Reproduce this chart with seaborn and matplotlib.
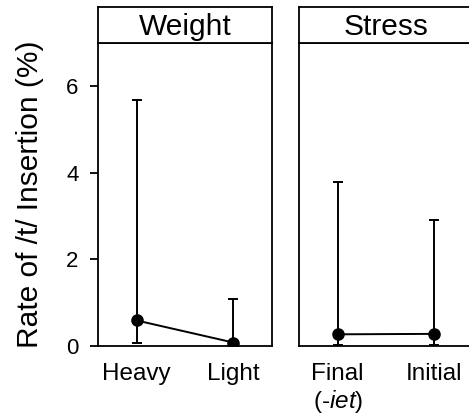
import matplotlib
matplotlib.use("Agg")
import matplotlib.pyplot as plt
import seaborn as sns
import pandas as pd

sns.set_theme(style="white")
plt.rcParams['font.family'] = ['Liberation Sans', 'DejaVu Sans']
plt.rcParams['mathtext.fontset'] = 'custom'
plt.rcParams['mathtext.it'] = 'Liberation Sans:italic'
plt.rcParams['mathtext.rm'] = 'Liberation Sans'

# Data
panels = ["Weight", "Stress"]
weight_cats = ["Heavy", "Light"]
weight_rate = [0.59, 0.08]
weight_lo = [0.06, 0.0]
weight_hi = [5.68, 1.09]

stress_cats = ["Final\n(-$\\mathit{iet}$)", "Initial"]
stress_rate = [0.27, 0.28]
stress_lo = [0.02, 0.02]
stress_hi = [3.8, 2.9]

yticks = [0, 2, 4, 6]
ylabel = "Rate of /t/ Insertion (%)"

W, H = 469, 417
fig = plt.figure(figsize=(W / 100, H / 100), dpi=100)

def px_axes(x0, y0, x1, y1):
    return fig.add_axes([x0 / W, 1 - y1 / H, (x1 - x0) / W, (y1 - y0) / H])

data_sets = [
    (weight_cats, weight_rate, weight_lo, weight_hi),
    (stress_cats, stress_rate, stress_lo, stress_hi),
]
lefts = [98, 299]
width = 174
top_data, bottom_data, top_strip = 43, 346, 7

for i, (title, (cats, rate, lo, hi)) in enumerate(zip(panels, data_sets)):
    x0 = lefts[i]
    ax = px_axes(x0, top_data, x0 + width, bottom_data)
    df = pd.DataFrame({"cat": cats, "rate": rate})
    sns.pointplot(data=df, x="cat", y="rate", ax=ax, color="black",
                  errorbar=None, markers="o", markersize=8, linewidth=1.4)
    pos = list(range(len(cats)))
    yerr = [[r - l for r, l in zip(rate, lo)], [h - r for r, h in zip(rate, hi)]]
    ax.errorbar(pos, rate, yerr=yerr, fmt="none", ecolor="black",
                elinewidth=1.4, capsize=3.8, capthick=1.4, zorder=1)
    ax.set_xlim(-0.4, 1.4)
    ax.set_ylim(0, 7)
    ax.set_xlabel("")
    ax.set_ylabel("")
    for s in ax.spines.values():
        s.set_visible(True)
        s.set_color("black")
        s.set_linewidth(1.3)
    ax.tick_params(axis="x", length=0, pad=12, labelsize=17.5, colors="black")
    ax.set_xticks(pos)
    ax.set_xticklabels(cats, linespacing=1.15)
    if i == 0:
        ax.set_yticks(yticks)
        ax.set_yticklabels([str(t) for t in yticks])
        ax.tick_params(axis="y", left=True, length=6, width=1.3, pad=8,
                       labelsize=16, colors="black", direction="out")
        ax.set_ylabel(ylabel, fontsize=21.5, color="black", labelpad=16)
    else:
        ax.set_yticks([])
    # strip
    sx = px_axes(x0, top_strip, x0 + width, top_data)
    sx.set_xticks([])
    sx.set_yticks([])
    sx.set_facecolor("white")
    for s in sx.spines.values():
        s.set_visible(True)
        s.set_color("black")
        s.set_linewidth(1.3)
    sx.text(0.5, 0.45, title, ha="center", va="center", fontsize=21.5,
            color="black", transform=sx.transAxes)

fig.savefig("out.png", dpi=100)
